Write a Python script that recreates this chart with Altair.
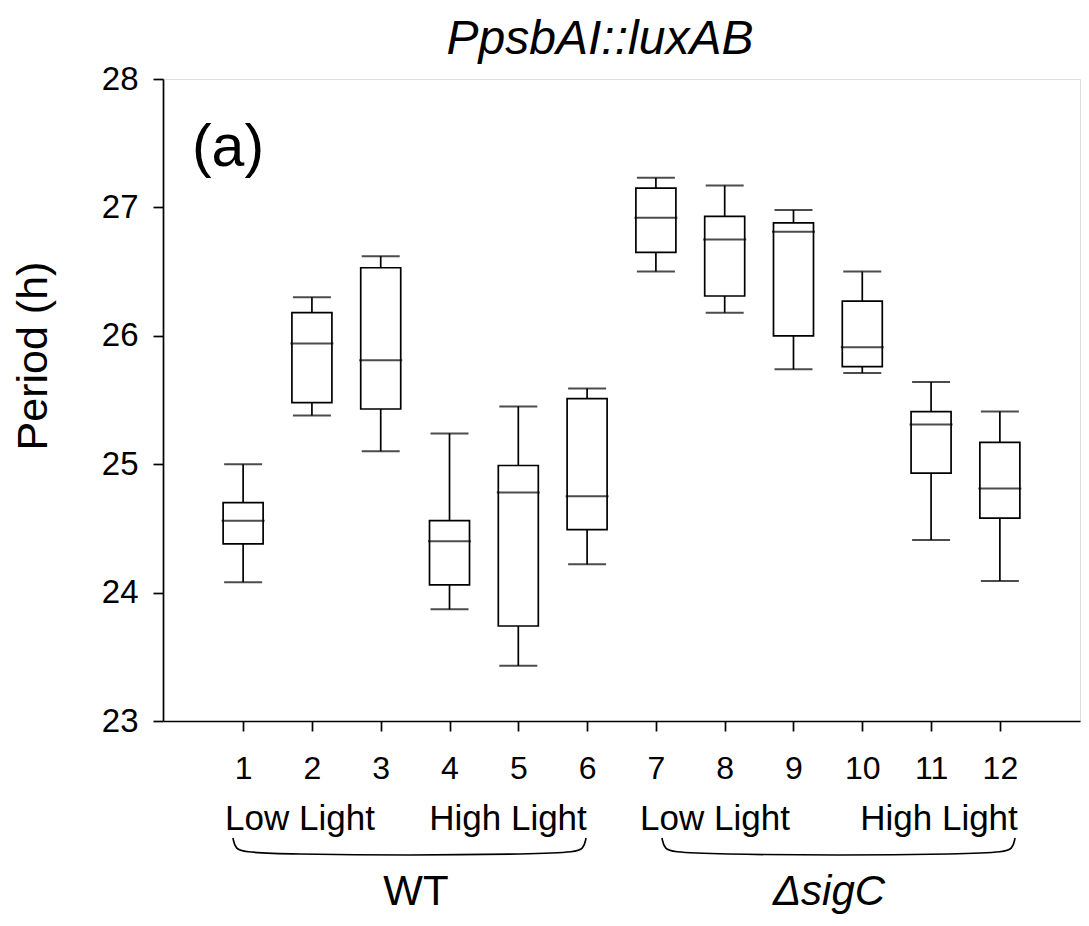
import altair as alt
import pandas as pd

# ---- data ----
positions = [1, 2, 3, 4, 5, 6, 7, 8, 9, 10, 11, 12]
whisker_low = [24.08, 25.38, 25.10, 23.87, 23.43, 24.22, 26.50, 26.18, 25.74, 25.71, 24.41, 24.09]
q1 = [24.38, 25.48, 25.43, 24.06, 23.74, 24.49, 26.65, 26.31, 26.00, 25.76, 24.93, 24.58]
median = [24.56, 25.94, 25.81, 24.40, 24.78, 24.75, 26.92, 26.75, 26.81, 25.91, 25.31, 24.81]
q3 = [24.70, 26.18, 26.53, 24.56, 24.99, 25.51, 27.15, 26.93, 26.88, 26.27, 25.41, 25.17]
whisker_high = [25.00, 26.30, 26.62, 25.24, 25.45, 25.59, 27.23, 27.17, 26.98, 26.50, 25.64, 25.41]
y_ticks = [23, 24, 25, 26, 27, 28]

title_text = "PpsbAI::luxAB"
panel_label = "(a)"
y_title = "Period (h)"
light_labels = ["Low Light", "High Light", "Low Light", "High Light"]
strain_labels = ["WT", "\u0394sigC"]

FONT = "Liberation Sans"
LW = 1.7

df = pd.DataFrame({
    "pos": positions,
    "lo": whisker_low,
    "q1": q1,
    "med": median,
    "q3": q3,
    "hi": whisker_high,
})

xscale = alt.Scale(domain=[-0.092, 13.092], nice=False, zero=False)
yscale = alt.Scale(domain=[23, 28], nice=False, zero=False)

xaxis = alt.Axis(values=positions, format="d", title=None, grid=False,
                 tickSize=10, labelFontSize=32, labelFont=FONT, labelColor="black",
                 labelPadding=47, labelBaseline="alphabetic",
                 domainColor="black", tickColor="black", domainWidth=LW, tickWidth=LW)
yaxis = alt.Axis(values=y_ticks, format="d", title=None, grid=False,
                 tickSize=10, labelFontSize=33, labelFont=FONT, labelColor="black",
                 labelPadding=15,
                 domainColor="black", tickColor="black", domainWidth=LW, tickWidth=LW)

base = alt.Chart(df).encode(x=alt.X("pos:Q", scale=xscale, axis=xaxis))

whisk = base.mark_rule(color="black", strokeWidth=LW).encode(
    y=alt.Y("lo:Q", scale=yscale, axis=yaxis), y2="hi:Q")
box = base.mark_bar(size=40, fill="white", stroke="black", strokeWidth=LW).encode(
    y=alt.Y("q1:Q", scale=yscale), y2="q3:Q")
med = base.mark_tick(orient="horizontal", size=43, thickness=2, color="black").encode(
    y=alt.Y("med:Q", scale=yscale))
cap_lo = base.mark_tick(orient="horizontal", size=38, thickness=2, color="black").encode(
    y=alt.Y("lo:Q", scale=yscale))
cap_hi = base.mark_tick(orient="horizontal", size=38, thickness=2, color="black").encode(
    y=alt.Y("hi:Q", scale=yscale))

boxes = alt.layer(whisk, box, med, cap_lo, cap_hi)

# ---- annotations (pixel positions relative to plot origin) ----
def text_layer(texts, xs, y, size, style="normal", angle=0):
    d = pd.DataFrame({"t": texts, "px": xs})
    return alt.Chart(d).mark_text(font=FONT, fontSize=size, fontStyle=style, angle=angle,
                                  align="center", baseline="alphabetic", color="black").encode(
        x=alt.X("px:Q", scale=None, axis=None), y=alt.value(y), text="t:N")

title_l = text_layer([title_text], [437], -25, 48, "italic")
panel_l = text_layer([panel_label], [65], 87, 59)
ytitle_l = alt.Chart(pd.DataFrame({"t": [y_title]})).mark_text(
    font=FONT, fontSize=43, angle=270, align="center", baseline="middle", color="black").encode(
    x=alt.value(-129), y=alt.value(277), text="t:N")
light_l = text_layer(light_labels, [137, 345, 552, 776], 751, 35)
wt_l = text_layer([strain_labels[0]], [253], 826, 42)
sig_l = text_layer([strain_labels[1]], [666], 826, 42, "italic")

# braces: rounded bracket under each strain group
brace_pts = []
for bid, (x0, x1) in enumerate([(70, 423), (499, 852)]):
    top, bot = 759, 776
    for px, py in [(x0, top), (x0 + 2, bot - 6), (x0 + 15, bot), (x1 - 15, bot), (x1 - 2, bot - 6), (x1, top)]:
        brace_pts.append({"b": bid, "px": px, "py": py, "o": len(brace_pts)})
brace_df = pd.DataFrame(brace_pts)
braces = alt.Chart(brace_df).mark_line(interpolate="basis", color="black", strokeWidth=LW).encode(
    x=alt.X("px:Q", scale=None, axis=None), y=alt.Y("py:Q", scale=None, axis=None),
    detail="b:N", order="o:Q")

chart = alt.layer(boxes, braces, title_l, panel_l, ytitle_l, light_l, wt_l, sig_l).resolve_scale(
    x="independent", y="independent"
).properties(
    width=917, height=642,
    padding={"left": 155, "top": 71, "right": 1, "bottom": 196},
    autosize=alt.AutoSizeParams(type="none"),
).configure_view(stroke="black", strokeWidth=LW).configure(background="white")

chart.save("out.html", embed_options={"renderer": "svg", "actions": False})
